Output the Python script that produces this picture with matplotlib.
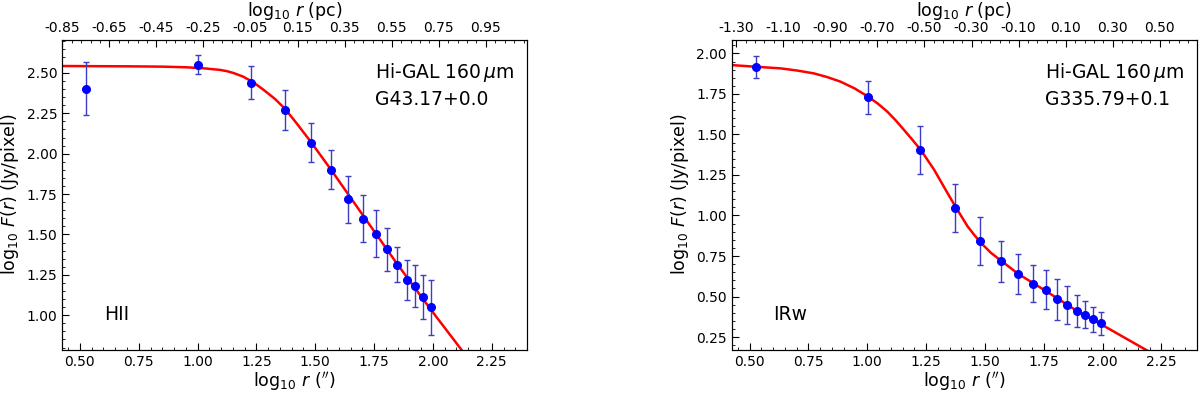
import numpy as np
import matplotlib.pyplot as plt
from matplotlib.ticker import AutoMinorLocator, FixedLocator

# radii of the annuli, log10 r (arcsec)
log_r = [0.525, 1.003, 1.225, 1.372, 1.481, 1.569, 1.641, 1.703,
         1.758, 1.807, 1.849, 1.889, 1.926, 1.960, 1.991]

# G43.17+0.0 (HII)
hii_flux = [2.403, 2.552, 2.440, 2.271, 2.068, 1.901, 1.719, 1.597,
            1.504, 1.409, 1.312, 1.221, 1.182, 1.112, 1.050]
hii_err = [0.163, 0.059, 0.100, 0.126, 0.122, 0.122, 0.146, 0.145,
           0.146, 0.134, 0.108, 0.124, 0.130, 0.138, 0.170]
hii_fit_r = [0.422, 0.712, 0.854, 0.953, 1.024, 1.095, 1.125, 1.152, 1.194, 1.237,
             1.279, 1.329, 1.371, 1.420, 1.480, 1.567, 1.704, 1.846, 1.987, 2.122]
hii_fit_f = [2.543, 2.541, 2.539, 2.535, 2.529, 2.519, 2.511, 2.500, 2.477, 2.442,
             2.397, 2.339, 2.279, 2.190, 2.076, 1.901, 1.616, 1.322, 1.043, 0.785]

# G335.79+0.1 (IRw)
irw_flux = [1.918, 1.729, 1.405, 1.046, 0.841, 0.718, 0.638, 0.578,
            0.541, 0.482, 0.445, 0.410, 0.389, 0.359, 0.334]
irw_err = [0.068, 0.103, 0.150, 0.147, 0.147, 0.127, 0.124, 0.114,
           0.120, 0.124, 0.117, 0.100, 0.083, 0.075, 0.070]
irw_fit_r = [0.425, 0.526, 0.631, 0.700, 0.773, 0.830, 0.886, 0.945, 1.004, 1.045,
             1.085, 1.120, 1.156, 1.190, 1.227, 1.284, 1.341, 1.374, 1.426, 1.455,
             1.483, 1.525, 1.571, 1.643, 1.760, 1.892, 1.994, 2.190]
irw_fit_f = [1.928, 1.918, 1.908, 1.895, 1.877, 1.854, 1.826, 1.785, 1.733, 1.690,
             1.641, 1.588, 1.528, 1.470, 1.405, 1.282, 1.138, 1.056, 0.933, 0.879,
             0.831, 0.770, 0.718, 0.638, 0.533, 0.410, 0.328, 0.166]

# arcsec -> pc offset in log10 (distance)
pc_offset = [-1.275, -1.743]
top_ticks = [np.round(np.arange(-0.85, 1.0, 0.2), 2),
             np.round(np.arange(-1.30, 0.6, 0.2), 2)]
names = ['G43.17+0.0', 'G335.79+0.1']
types = ['HII', 'IRw']
fluxes = [hii_flux, irw_flux]
errs = [hii_err, irw_err]
fits = [(hii_fit_r, hii_fit_f), (irw_fit_r, irw_fit_f)]
ylims = [(0.785, 2.707), (0.17, 2.086)]
xlim = (0.424, 2.4)

fig = plt.figure(figsize=(12, 3.94), dpi=100)
lefts = [0.0517, 0.6098]

for i in range(2):
    ax = fig.add_axes([lefts[i], 0.1117, 0.3875, 0.788])
    ax.plot(fits[i][0], fits[i][1], color='red', lw=1.8, zorder=2)
    ax.errorbar(log_r, fluxes[i], yerr=errs[i], fmt='o', color='blue',
                markersize=5.5, ecolor='#3c3cc4', elinewidth=1,
                capsize=2, capthick=1, zorder=3)
    ax.set_xlim(xlim)
    ax.set_ylim(ylims[i])
    ax.xaxis.set_major_locator(FixedLocator([0.5, 0.75, 1.0, 1.25, 1.5, 1.75, 2.0, 2.25]))
    ax.xaxis.set_minor_locator(AutoMinorLocator(5))
    ax.yaxis.set_minor_locator(AutoMinorLocator(5))
    ax.tick_params(which='both', direction='in', top=False, right=False, labelsize=10)
    ax.tick_params(which='major', length=5)
    ax.tick_params(which='minor', length=2.5)
    ax.set_xlabel(r'$\log_{10}\,r\ (^{\prime\prime})$', fontsize=12.5, labelpad=1)
    ax.set_ylabel(r'$\log_{10}\,F(r)$ (Jy/pixel)', fontsize=12.5)

    ax.text(0.673, 0.93, 'Hi-GAL 160$\\,\\mu$m\n' + names[i], transform=ax.transAxes,
            va='top', ha='left', fontsize=13.5, linespacing=1.4)
    ax.text(0.09, 0.095, types[i], transform=ax.transAxes, va='baseline',
            ha='left', fontsize=13.5)

    # top axis in parsec
    top = ax.twiny()
    top.set_xlim(xlim[0] + pc_offset[i], xlim[1] + pc_offset[i])
    top.xaxis.set_major_locator(FixedLocator(top_ticks[i]))
    top.set_xticklabels([f'{t:.2f}' for t in top_ticks[i]])
    top.xaxis.set_minor_locator(AutoMinorLocator(5))
    top.tick_params(which='both', direction='in', labelsize=10)
    top.tick_params(which='major', length=5)
    top.tick_params(which='minor', length=2.5)
    top.set_xlabel(r'$\log_{10}\,r$ (pc)', fontsize=12.5, labelpad=3)

fig.savefig('out.png', dpi=100)
